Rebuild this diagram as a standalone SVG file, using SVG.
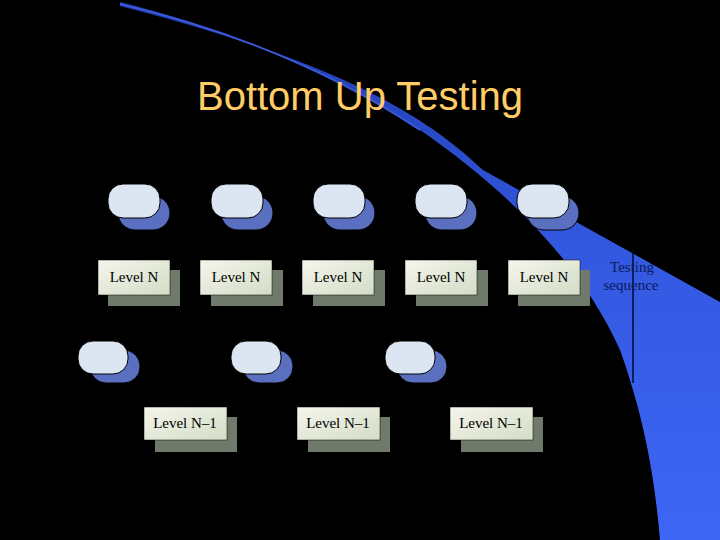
<svg xmlns="http://www.w3.org/2000/svg" width="720" height="540" viewBox="0 0 720 540">
<defs>
<linearGradient id="bg" x1="0" y1="0" x2="0" y2="1">
<stop offset="0" stop-color="#1e3aa8"/><stop offset="0.45" stop-color="#3358e0"/><stop offset="1" stop-color="#3d66f5"/>
</linearGradient>
<linearGradient id="box" x1="0" y1="0" x2="1" y2="1">
<stop offset="0" stop-color="#f4f6ec"/><stop offset="1" stop-color="#d4dcc6"/>
</linearGradient>
<style>
.pill{fill:#dce6f2;stroke:#000;stroke-width:1}
.pillsh{fill:#5a6fc0;stroke:#000;stroke-width:1}
.bx{fill:url(#box);stroke:#000;stroke-width:0.5}
.bxsh{fill:#6f7a6a}
.ln{stroke:#000;stroke-width:1.5;fill:none}
.lt{font-family:"Liberation Serif",serif;font-size:15px;fill:#000;text-anchor:middle}
</style>
</defs>
<rect width="720" height="540" fill="#000"/>
<path d="M120,2 C230,30 330,70 420,130 C500,185 580,260 620,350 C645,420 655,480 660,540 L720,540 L720,302 L483,170 C420,110 330,60 120,6 Z" fill="url(#bg)"/>
<path d="M120,4 C230,30 330,70 420,130" stroke="#3a58d8" stroke-width="2" fill="none"/>
<text x="360" y="110" font-family="'Liberation Sans',Arial,sans-serif" font-size="40" fill="#ffcc66" text-anchor="middle">Bottom Up Testing</text>
<g id="seq">
<line x1="633" y1="250" x2="633" y2="383" stroke="#000a3a" stroke-width="1.5"/>
<text x="632" y="272" font-family="'Liberation Serif',serif" font-size="15" fill="#0a1a5a" text-anchor="middle">Testing</text>
<text x="631" y="290" font-family="'Liberation Serif',serif" font-size="15" fill="#0a1a5a" text-anchor="middle">sequence</text>
</g>
<g id="connectors">
<line class="ln" x1="134" y1="218" x2="134" y2="229"/>
<line class="ln" x1="237" y1="218" x2="237" y2="229"/>
<line class="ln" x1="339" y1="218" x2="339" y2="229"/>
<line class="ln" x1="441" y1="218" x2="441" y2="229"/>
<line class="ln" x1="543" y1="218" x2="543" y2="229"/>
<line class="ln" x1="140" y1="295" x2="143" y2="306"/>
<line class="ln" x1="228" y1="295" x2="225" y2="306"/>
<line class="ln" x1="336" y1="295" x2="336" y2="306"/>
<line class="ln" x1="442" y1="295" x2="440" y2="306"/>
<line class="ln" x1="535" y1="295" x2="532" y2="306"/>
<line class="ln" x1="124" y1="372" x2="135" y2="382"/>
<line class="ln" x1="277" y1="372" x2="288" y2="382"/>
<line class="ln" x1="431" y1="372" x2="442" y2="382"/>
</g>
<g id="t1"><rect class="pillsh" x="118" y="196" width="52" height="34" rx="17"/><rect class="pill" x="108" y="184" width="52" height="34" rx="15"/></g>
<g id="t2"><rect class="pillsh" x="221" y="196" width="52" height="34" rx="17"/><rect class="pill" x="211" y="184" width="52" height="34" rx="15"/></g>
<g id="t3"><rect class="pillsh" x="323" y="196" width="52" height="34" rx="17"/><rect class="pill" x="313" y="184" width="52" height="34" rx="15"/></g>
<g id="t4"><rect class="pillsh" x="425" y="196" width="52" height="34" rx="17"/><rect class="pill" x="415" y="184" width="52" height="34" rx="15"/></g>
<g id="t5"><rect class="pillsh" x="527" y="196" width="52" height="34" rx="17"/><rect class="pill" x="517" y="184" width="52" height="34" rx="15"/></g>
<g id="n1"><rect class="bxsh" x="108" y="270" width="72" height="36"/><rect class="bx" x="98" y="260" width="72" height="35"/><text class="lt" x="134" y="282">Level N</text></g>
<g id="n2"><rect class="bxsh" x="211" y="270" width="72" height="36"/><rect class="bx" x="200" y="260" width="72" height="35"/><text class="lt" x="236" y="282">Level N</text></g>
<g id="n3"><rect class="bxsh" x="313" y="270" width="72" height="36"/><rect class="bx" x="302" y="260" width="72" height="35"/><text class="lt" x="338" y="282">Level N</text></g>
<g id="n4"><rect class="bxsh" x="416" y="270" width="72" height="36"/><rect class="bx" x="405" y="260" width="72" height="35"/><text class="lt" x="441" y="282">Level N</text></g>
<g id="n5"><rect class="bxsh" x="518" y="270" width="72" height="36"/><rect class="bx" x="508" y="260" width="72" height="35"/><text class="lt" x="544" y="282">Level N</text></g>
<g id="b1"><rect class="pillsh" x="90" y="350" width="50" height="33" rx="16"/><rect class="pill" x="78" y="341" width="50" height="33" rx="15"/></g>
<g id="b2"><rect class="pillsh" x="243" y="350" width="50" height="33" rx="16"/><rect class="pill" x="231" y="341" width="50" height="33" rx="15"/></g>
<g id="b3"><rect class="pillsh" x="397" y="350" width="50" height="33" rx="16"/><rect class="pill" x="385" y="341" width="50" height="33" rx="15"/></g>
<g id="m1"><rect class="bxsh" x="155" y="417" width="82" height="35"/><rect class="bx" x="144" y="407" width="83" height="33"/><text class="lt" x="185" y="428">Level N–1</text></g>
<g id="m2"><rect class="bxsh" x="308" y="417" width="82" height="35"/><rect class="bx" x="297" y="407" width="83" height="33"/><text class="lt" x="338" y="428">Level N–1</text></g>
<g id="m3"><rect class="bxsh" x="461" y="417" width="82" height="35"/><rect class="bx" x="450" y="407" width="83" height="33"/><text class="lt" x="491" y="428">Level N–1</text></g>
</svg>
